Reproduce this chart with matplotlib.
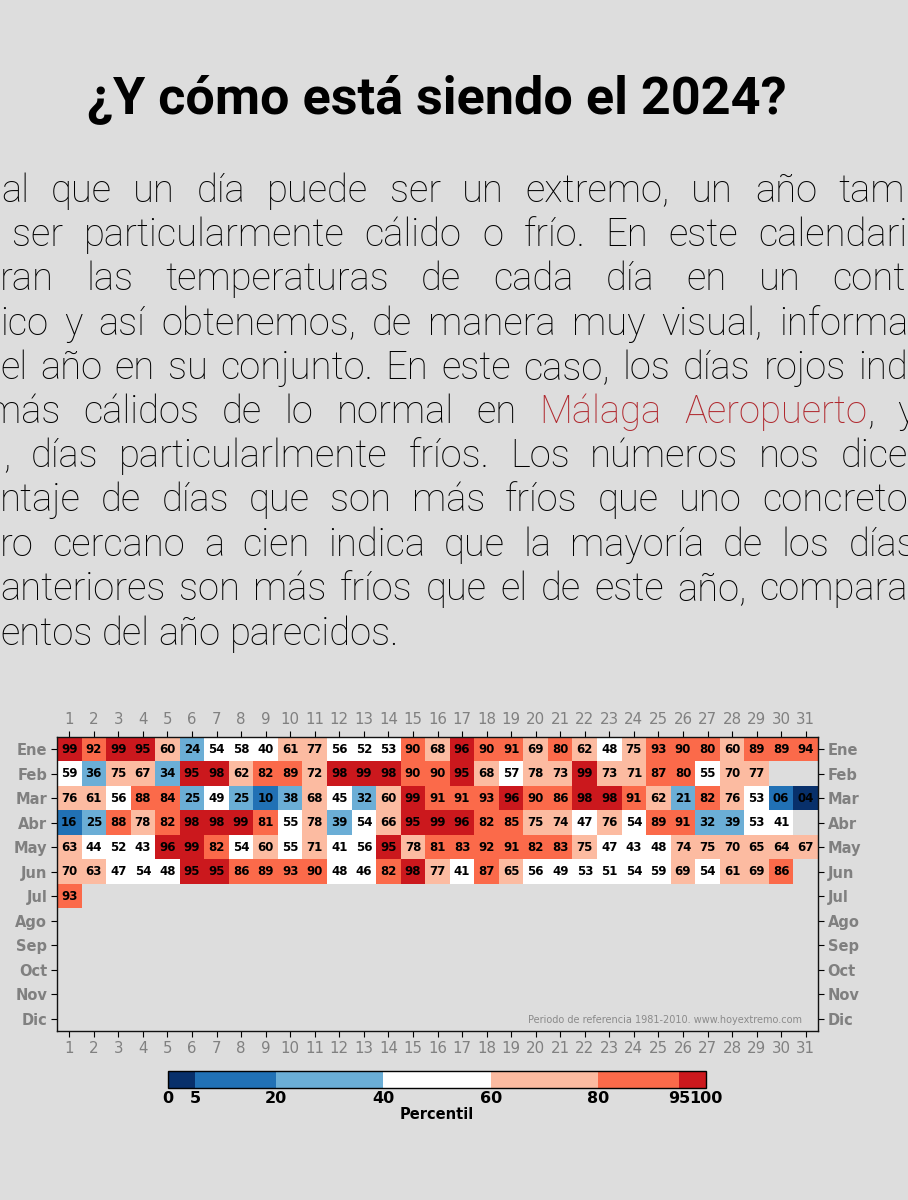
import numpy as np
import matplotlib
matplotlib.use('Agg')
import matplotlib.pyplot as plt
from matplotlib.colors import ListedColormap, BoundaryNorm
from matplotlib.transforms import IdentityTransform

# ---------------- data ----------------
months = ['Ene', 'Feb', 'Mar', 'Abr', 'May', 'Jun', 'Jul', 'Ago', 'Sep', 'Oct', 'Nov', 'Dic']
days = list(range(1, 32))

ene = [99, 92, 99, 95, 60, 24, 54, 58, 40, 61, 77, 56, 52, 53, 90, 68, 96, 90, 91, 69, 80, 62, 48, 75, 93, 90, 80, 60, 89, 89, 94]
feb = [59, 36, 75, 67, 34, 95, 98, 62, 82, 89, 72, 98, 99, 98, 90, 90, 95, 68, 57, 78, 73, 99, 73, 71, 87, 80, 55, 70, 77]
mar = [76, 61, 56, 88, 84, 25, 49, 25, 10, 38, 68, 45, 32, 60, 99, 91, 91, 93, 96, 90, 86, 98, 98, 91, 62, 21, 82, 76, 53, 6, 4]
abr = [16, 25, 88, 78, 82, 98, 98, 99, 81, 55, 78, 39, 54, 66, 95, 99, 96, 82, 85, 75, 74, 47, 76, 54, 89, 91, 32, 39, 53, 41]
may = [63, 44, 52, 43, 96, 99, 82, 54, 60, 55, 71, 41, 56, 95, 78, 81, 83, 92, 91, 82, 83, 75, 47, 43, 48, 74, 75, 70, 65, 64, 67]
jun = [70, 63, 47, 54, 48, 95, 95, 86, 89, 93, 90, 48, 46, 82, 98, 77, 41, 87, 65, 56, 49, 53, 51, 54, 59, 69, 54, 61, 69, 86]
jul = [93]
year_rows = [ene, feb, mar, abr, may, jun, jul]

bounds = [0, 5, 20, 40, 60, 80, 95, 100]
bin_colors = ['#08306b', '#2171b5', '#6baed6', '#ffffff', '#fcbba1', '#fb6a4a', '#cb181d']
cbar_ticklabels = ['0', '5', '20', '40', '60', '80', '95', '100']

title = '¿Y cómo está siendo el 2024?'
RED = '#b0282e'
K = '#000000'
body_lines = [
    # (words, baseline_y_px, left_px, right_px or None)
    (['al', 'que', 'un', 'día', 'puede', 'ser', 'un', 'extremo,', 'un', 'año', 'tam'], 202, 1, 905),
    (['ser', 'particularmente', 'cálido', 'o', 'frío.', 'En', 'este', 'calendari'], 246, 12, 908),
    (['ran', 'las', 'temperaturas', 'de', 'cada', 'día', 'en', 'un', 'cont'], 290, 0, 906),
    (['ico', 'y', 'así', 'obtenemos,', 'de', 'manera', 'muy', 'visual,', 'informa'], 335, 0, 908),
    (['el', 'año', 'en', 'su', 'conjunto.', 'En', 'este', 'caso,', 'los', 'días', 'rojos', 'ind'], 379, 0, 908),
    (['más', 'cálidos', 'de', 'lo', 'normal', 'en', [('Málaga', RED)], [('Aeropuerto', RED), (',', K)], 'y'], 423, -13, 915),
    ([',', 'días', 'particularlmente', 'fríos.', 'Los', 'números', 'nos', 'dice'], 467, 3, 908),
    (['ntaje', 'de', 'días', 'que', 'son', 'más', 'fríos', 'que', 'uno', 'concreto'], 511, 0, 908),
    (['ro', 'cercano', 'a', 'cien', 'indica', 'que', 'la', 'mayoría', 'de', 'los', 'días'], 556, 0, 916),
    (['anteriores', 'son', 'más', 'fríos', 'que', 'el', 'de', 'este', 'año,', 'compara'], 600, 0, 908),
    (['entos', 'del', 'año', 'parecidos.'], 645, 0, None),
]
footnote = 'Periodo de referencia 1981-2010. www.hoyextremo.com'

# ---------------- figure ----------------
W, H = 908, 1200
BG = '#dddddd'
fig = plt.figure(figsize=(W / 100, H / 100), dpi=100, facecolor=BG)
renderer = fig.canvas.get_renderer()

fig.text(437 / W, 1 - 113 / H, title, ha='center', va='baseline',
         fontsize=37.5, fontweight='bold', family=['Roboto', 'DejaVu Sans'],
         color='#000000')

FS = 27.5
BODY_FONT = dict(family='Roboto', fontweight='light', fontsize=FS)

_m1 = fig.text(0, 0, 'a a', **BODY_FONT)
_m2 = fig.text(0, 0, 'aa', **BODY_FONT)
SPACE_W = _m1.get_window_extent(renderer).width - _m2.get_window_extent(renderer).width
_m1.remove()
_m2.remove()


def place_line(words, yb, xl, xr):
    objs = []
    for w in words:
        segs = [(w, K)] if isinstance(w, str) else w
        seg_objs = []
        width = 0
        for s, c in segs:
            t = fig.text(0, 0, s, color=c, ha='left', va='baseline',
                         transform=IdentityTransform(), **BODY_FONT)
            sw = t.get_window_extent(renderer).width
            seg_objs.append((t, sw))
            width += sw
        objs.append((seg_objs, width))
    total = sum(o[1] for o in objs)
    if xr is None or len(objs) < 2:
        gap = SPACE_W
    else:
        gap = (xr - xl - total) / (len(objs) - 1)
    x = xl
    for seg_objs, width in objs:
        xx = x
        for t, sw in seg_objs:
            t.set_position((xx, H - yb))
            xx += sw
        x += width + gap


for words, yb, xl, xr in body_lines:
    place_line(words, yb, xl, xr)

# ---------------- heatmap ----------------
ax = fig.add_axes([57 / W, 1 - 1031 / H, 761 / W, 294 / H])
ax.set_facecolor(BG)
data = np.full((12, 31), np.nan)
for i, row in enumerate(year_rows):
    data[i, :len(row)] = row
masked = np.ma.masked_invalid(data)
cmap = ListedColormap(bin_colors)
norm = BoundaryNorm(bounds, cmap.N)
im = ax.imshow(masked, cmap=cmap, norm=norm, aspect='auto', interpolation='nearest',
               extent=(0.5, 31.5, 12.5, 0.5))
for i, row in enumerate(year_rows):
    for j, v in enumerate(row):
        ax.text(j + 1, i + 1, f'{v:02d}', ha='center', va='center',
                fontsize=8.5, fontweight='bold', color='#000000')

ax.set_xticks(days)
ax.set_xticklabels([str(d) for d in days])
ax.set_yticks(range(1, 13))
ax.set_yticklabels(months, fontweight='bold')
ax.tick_params(axis='x', top=True, labeltop=True, bottom=True, labelbottom=True,
               labelcolor='#808080', labelsize=10.8, length=4, width=0.8, direction='out', pad=3)
ax.tick_params(axis='y', left=True, right=True, labelleft=True, labelright=True,
               labelcolor='#808080', labelsize=10.5, length=4, width=0.8, direction='out', pad=3)
for s in ax.spines.values():
    s.set_linewidth(1.0)
    s.set_color('#111111')
ax.set_xlim(0.5, 31.5)
ax.set_ylim(12.5, 0.5)

ax.text(0.979, 0.027, footnote, transform=ax.transAxes, ha='right', va='baseline',
        fontsize=7.0, color='#8a8a8a')

# ---------------- colorbar ----------------
cax = fig.add_axes([168 / W, 1 - 1088 / H, 538 / W, 17 / H])
cb = fig.colorbar(im, cax=cax, orientation='horizontal', boundaries=bounds,
                  ticks=bounds, spacing='proportional')
cb.set_ticklabels(cbar_ticklabels)
cb.ax.tick_params(labelsize=11.5, length=0, pad=2)
for lab in cb.ax.get_xticklabels():
    lab.set_fontweight('bold')
cb.outline.set_linewidth(1.0)
cb.set_label('Percentil', fontsize=10.5, fontweight='bold', labelpad=1)

fig.savefig('out.png', dpi=100, facecolor=BG)
